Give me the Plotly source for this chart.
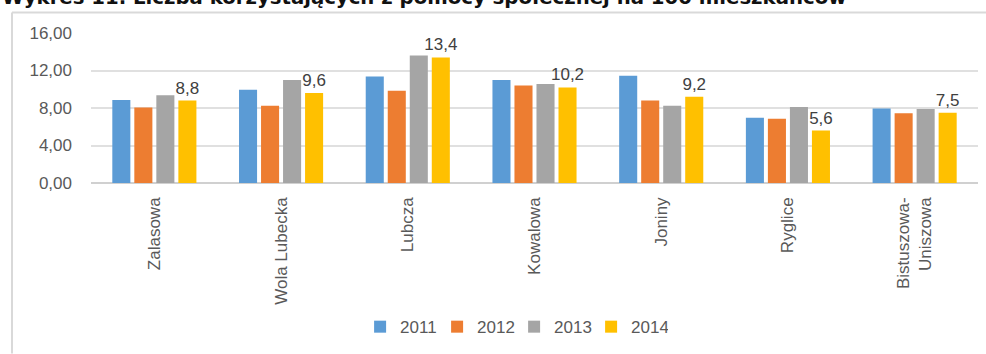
import plotly.graph_objects as go

# Sołectwa (villages) of the commune
categories = ["Zalasowa", "Wola Lubecka", "Lubcza", "Kowalowa", "Joniny", "Ryglice",
              "Bistuszowa-<br>Uniszowa"]

# Beneficiaries of social assistance per 100 inhabitants
years = ["2011", "2012", "2013", "2014"]
v2011 = [8.85, 9.95, 11.35, 11.0, 11.45, 6.95, 7.95]
v2012 = [8.05, 8.25, 9.85, 10.4, 8.8, 6.85, 7.45]
v2013 = [9.35, 11.0, 13.6, 10.55, 8.25, 8.1, 7.9]
v2014 = [8.8, 9.6, 13.4, 10.2, 9.2, 5.6, 7.5]

y_ticks = [0, 4, 8, 12, 16]

colors = ["#5b9bd5", "#ed7d31", "#a5a5a5", "#ffc000"]
series = [v2011, v2012, v2013, v2014]

W, H = 986, 354
L, R, T, B = 91, 8, 33, 168

fig = go.Figure()
for name, vals, col in zip(years, series, colors):
    show_text = name == "2014"
    fig.add_trace(go.Bar(
        name=name,
        x=categories,
        y=vals,
        marker=dict(color=col, line=dict(width=0)),
        text=[f"{v:.1f}".replace(".", ",") for v in vals] if show_text else None,
        textposition="outside" if show_text else "none",
        constraintext="none",
        textangle=0,
        textfont=dict(family="Liberation Sans", size=17, color="#404040"),
        cliponaxis=False,
    ))


def px_x(px):
    return (px - L) / (W - L - R)


def px_y(py):
    return (H - B - py) / (H - T - B)


fig.update_layout(
    width=W, height=H,
    margin=dict(l=L, r=R, t=T, b=B),
    paper_bgcolor="#ffffff",
    plot_bgcolor="#ffffff",
    separators=", ",
    barmode="group",
    bargap=0.305,
    bargroupgap=0.18,
    font=dict(family="Liberation Sans", color="#595959"),
    xaxis=dict(
        tickangle=-90,
        tickfont=dict(size=17, color="#595959"),
        showgrid=False,
        showline=False,
        ticks="",
        ticklabelstandoff=10,
    ),
    yaxis=dict(
        range=[0, 16],
        tickvals=y_ticks,
        tickformat=".2f",
        tickfont=dict(size=17, color="#595959"),
        gridcolor="#e0e0e0",
        gridwidth=2,
        zeroline=True,
        zerolinecolor="#d0d0d0",
        zerolinewidth=2,
        ticklabelstandoff=18,
        showline=False,
    ),
    legend=dict(
        orientation="h",
        x=0.477, xanchor="center",
        y=px_y(333), yanchor="middle",
        font=dict(size=17, color="#595959"),
        itemwidth=30,
        entrywidth=32,
        entrywidthmode="pixels",
        traceorder="normal",
    ),
    showlegend=True,
    shapes=[
        # frame of the chart area
        dict(type="line", xref="paper", yref="paper",
             x0=px_x(12), x1=px_x(990), y0=px_y(12), y1=px_y(12),
             line=dict(color="#d9d9d9", width=2)),
        dict(type="line", xref="paper", yref="paper",
             x0=px_x(12), x1=px_x(12), y0=px_y(12), y1=px_y(360),
             line=dict(color="#d9d9d9", width=2)),
    ],
    annotations=[
        dict(text="<b>Wykres 11. Liczba korzystających z pomocy społecznej na 100 mieszkańców</b>",
             xref="paper", yref="paper", x=px_x(0), y=px_y(11),
             xanchor="left", yanchor="bottom", showarrow=False,
             font=dict(family="DejaVu Sans", size=19.7, color="#111111")),
    ],
)

fig.write_html("out.html")
